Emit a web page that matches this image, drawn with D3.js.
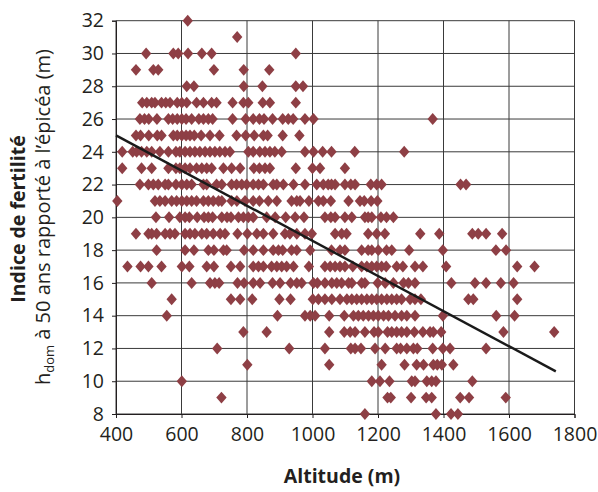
<html>
<head>
    <meta charset="utf-8">
    <script src="https://d3js.org/d3.v7.min.js"></script>
    <style>
        body { margin: 0; background: #fff; }
        text { font-family: "Open Sans", sans-serif; fill: #231f20; }
    </style>
</head>

<body>
    <svg id="chart"></svg>

    <script>
        var xTicks = [400, 600, 800, 1000, 1200, 1400, 1600, 1800];
        var yTicks = [8, 10, 12, 14, 16, 18, 20, 22, 24, 26, 28, 30, 32];
        var trend = [[400, 25], [1743, 10.6]];

        // altitudes, one array per index value
        var h32 = [619];
        var h31 = [770];
        var h30 = [492, 575, 590, 620, 662, 692, 949];
        var h29 = [461, 514, 529, 699, 790, 868];
        var h28 = [616, 638, 790, 847, 949, 971];
        var h27 = [480, 494, 509, 519, 539, 552, 565, 587, 601, 616, 646, 667, 692, 707, 756, 789, 804, 848, 870, 949];
        var h26 = [473, 487, 500, 525, 560, 573, 587, 601, 614, 631, 653, 667, 682, 695, 756, 796, 819, 838, 852, 878, 909, 926, 941, 977, 1003, 1367];
        var h25 = [461, 475, 500, 526, 539, 575, 587, 601, 614, 626, 639, 660, 687, 716, 768, 796, 822, 850, 863, 909, 960];
        var h24 = [419, 451, 463, 478, 494, 509, 534, 560, 583, 595, 611, 626, 641, 656, 672, 687, 702, 717, 733, 748, 804, 819, 839, 855, 870, 885, 906, 977, 1003, 1031, 1058, 1129, 1280];
        var h23 = [419, 478, 509, 560, 583, 595, 611, 626, 646, 662, 677, 692, 728, 753, 779, 821, 838, 855, 870, 949, 1000, 1023, 1099];
        var h22 = [473, 499, 514, 529, 550, 560, 583, 601, 616, 631, 667, 677, 707, 723, 753, 768, 784, 799, 819, 835, 850, 880, 891, 911, 942, 977, 1013, 1033, 1048, 1058, 1069, 1099, 1117, 1130, 1178, 1196, 1211, 1452, 1469];
        var h21 = [404, 519, 534, 550, 570, 585, 601, 616, 631, 646, 667, 682, 697, 713, 723, 753, 769, 794, 819, 838, 865, 891, 936, 952, 962, 989, 1018, 1033, 1056, 1110, 1145, 1158, 1179, 1198];
        var h20 = [522, 562, 595, 611, 624, 648, 669, 682, 695, 723, 739, 751, 774, 789, 804, 819, 860, 886, 918, 947, 974, 1038, 1056, 1069, 1099, 1120, 1160, 1170, 1181, 1209, 1226, 1247];
        var h19 = [461, 499, 509, 524, 550, 565, 580, 611, 626, 641, 662, 677, 697, 718, 733, 771, 801, 830, 850, 880, 916, 931, 952, 977, 998, 1069, 1089, 1104, 1170, 1196, 1221, 1329, 1387, 1488, 1506, 1530, 1579];
        var h18 = [524, 611, 638, 682, 699, 728, 738, 791, 819, 850, 880, 896, 909, 936, 952, 993, 1058, 1084, 1099, 1150, 1170, 1181, 1201, 1226, 1242, 1295, 1398, 1560, 1591];
        var h17 = [435, 475, 499, 539, 601, 624, 677, 699, 751, 779, 819, 835, 850, 875, 891, 906, 921, 942, 989, 1038, 1054, 1069, 1084, 1099, 1123, 1150, 1166, 1181, 1196, 1211, 1225, 1257, 1276, 1313, 1337, 1408, 1625, 1678];
        var h16 = [509, 631, 687, 702, 715, 771, 791, 819, 840, 878, 901, 933, 952, 967, 1003, 1015, 1038, 1059, 1074, 1089, 1110, 1120, 1150, 1160, 1199, 1222, 1247, 1278, 1293, 1313, 1424, 1496, 1530, 1575, 1614];
        var h15 = [570, 751, 779, 816, 899, 933, 1001, 1018, 1038, 1059, 1084, 1105, 1120, 1135, 1150, 1166, 1181, 1196, 1211, 1227, 1242, 1257, 1272, 1298, 1313, 1331, 1476, 1491, 1625];
        var h14 = [555, 893, 977, 993, 1008, 1051, 1097, 1125, 1140, 1155, 1171, 1186, 1201, 1217, 1232, 1252, 1272, 1288, 1313, 1398, 1561, 1617];
        var h13 = [789, 860, 1051, 1097, 1115, 1130, 1160, 1188, 1201, 1229, 1242, 1257, 1272, 1288, 1311, 1337, 1359, 1369, 1393, 1583, 1738];
        var h12 = [709, 929, 1038, 1117, 1130, 1148, 1191, 1222, 1257, 1269, 1288, 1308, 1320, 1367, 1398, 1420, 1530];
        var h11 = [801, 1051, 1211, 1281, 1318, 1339, 1369, 1381, 1395, 1430];
        var h10 = [601, 1181, 1206, 1235, 1303, 1313, 1349, 1364, 1377, 1488];
        var h9 = [722, 1229, 1239, 1301, 1347, 1364, 1451, 1478, 1590];
        var h8 = [1160, 1377, 1423, 1444];

        var rows = [
            [32, h32], [31, h31], [30, h30], [29, h29], [28, h28], [27, h27], [26, h26], [25, h25],
            [24, h24], [23, h23], [22, h22], [21, h21], [20, h20], [19, h19], [18, h18], [17, h17],
            [16, h16], [15, h15], [14, h14], [13, h13], [12, h12], [11, h11], [10, h10], [9, h9], [8, h8]
        ];

        var points = [];
        rows.forEach(function(r){
            r[1].forEach(function(alt){ points.push({alt: alt, h: r[0]}); });
        });

        var Width = 598, Height = 492;
        var Left = 116, Right = 574.5, Top = 20.7, Bottom = 414;

        var svg = d3.select("#chart")
            .attr("width", Width)
            .attr("height", Height);

        var ScaleX = d3.scaleLinear().domain([400, 1800]).range([Left, Right]);
        var ScaleY = d3.scaleLinear().domain([8, 32]).range([Bottom, Top]);

        var axisX = d3.axisBottom(ScaleX).tickValues(xTicks).tickSize(4).tickFormat(d3.format("d"));
        var axisY = d3.axisLeft(ScaleY).tickValues(yTicks).tickSize(4).tickFormat(d3.format("d"));

        // grid
        svg.append("g").selectAll("line").data(xTicks).enter().append("line")
            .attr("x1", function(d){ return ScaleX(d); })
            .attr("x2", function(d){ return ScaleX(d); })
            .attr("y1", Top).attr("y2", Bottom)
            .attr("stroke", "#3a3a3a").attr("stroke-width", 1);
        svg.append("g").selectAll("line").data(yTicks).enter().append("line")
            .attr("x1", Left).attr("x2", Right)
            .attr("y1", function(d){ return ScaleY(d); })
            .attr("y2", function(d){ return ScaleY(d); })
            .attr("stroke", "#3a3a3a").attr("stroke-width", 1);

        var gx = svg.append("g").attr("transform", "translate(0," + Bottom + ")").call(axisX);
        var gy = svg.append("g").attr("transform", "translate(" + Left + ",0)").call(axisY);
        [gx, gy].forEach(function(g){
            g.select(".domain").attr("stroke", "#231f20");
            g.selectAll(".tick line").attr("stroke", "#231f20");
            g.selectAll("text").style("font-size", "19.5px").attr("fill", "#231f20");
        });
        gx.selectAll("text").attr("y", 13);
        gy.selectAll("text").attr("x", -12);

        // markers are a bit taller than wide
        var diamond = {
            draw: function(ctx, size){
                var r = Math.sqrt(size);
                ctx.moveTo(0, -r * 1.15);
                ctx.lineTo(r, 0);
                ctx.lineTo(0, r * 1.15);
                ctx.lineTo(-r, 0);
                ctx.closePath();
            }
        };

        svg.append("g").selectAll("path").data(points).enter().append("path")
            .attr("d", d3.symbol().type(diamond).size(27))
            .attr("transform", function(d){ return "translate(" + ScaleX(d.alt) + "," + ScaleY(d.h) + ")"; })
            .attr("fill", "#8e3f45");

        var line = d3.line()
            .x(function(d){ return ScaleX(d[0]); })
            .y(function(d){ return ScaleY(d[1]); });
        svg.append("path").attr("d", line(trend))
            .attr("fill", "none").attr("stroke", "#1a1a1a").attr("stroke-width", 2.4);

        // titles
        svg.append("text")
            .attr("x", 342).attr("y", 483)
            .attr("text-anchor", "middle")
            .style("font-size", "19.5px").style("font-weight", "bold")
            .text("Altitude (m)");

        svg.append("text")
            .attr("transform", "translate(25,219) rotate(-90)")
            .attr("text-anchor", "middle")
            .style("font-size", "19.5px").style("font-weight", "bold")
            .text("Indice de fertilité");

        var yt = svg.append("text")
            .attr("transform", "translate(50,217) rotate(-90)")
            .attr("text-anchor", "middle")
            .style("font-size", "20px");
        yt.append("tspan").text("h");
        yt.append("tspan").attr("dy", 4).style("font-size", "13px").text("dom");
        yt.append("tspan").attr("dy", -4).text(" à 50 ans rapporté à l’épicéa (m)");
    </script>
</body>
</html>
